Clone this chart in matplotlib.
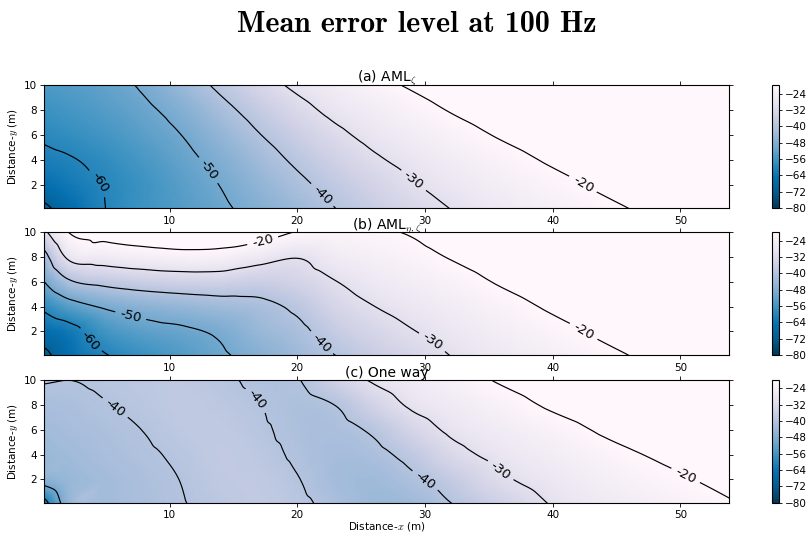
import os
import numpy as np
import matplotlib
matplotlib.use("Agg")
import matplotlib.pyplot as plt
import matplotlib.tri as mtri
from matplotlib.font_manager import FontProperties

plt.rcParams['mathtext.fontset'] = 'cm'
plt.rcParams['font.family'] = ['DejaVu Sans']

# Sample grid (m)
x_nodes = [0, 2, 5, 8, 11, 14, 17, 20, 23, 26, 29, 32, 36, 40, 45, 50, 54]
y_nodes = [0, 2, 4, 6, 8, 10]

# Mean error level (dB), one row per y node
level_aml_zeta = [
    [-72.5, -66.6, -60.0, -56.6, -53.9, -51.1, -47.7, -43.9, -40.1, -36.5, -33.0, -30.0, -26.7, -24.0, -20.7, -17.5, -15.0],
    [-65.5, -63.0, -59.6, -56.5, -53.2, -49.8, -45.6, -41.5, -37.7, -34.1, -30.5, -27.7, -24.5, -21.7, -18.3, -15.5, -13.3],
    [-61.8, -60.6, -58.1, -55.1, -51.8, -47.9, -43.2, -38.8, -34.9, -31.0, -28.0, -25.4, -22.2, -19.2, -16.2, -13.8, -12.0],
    [-59.2, -57.95, -55.8, -53.1, -49.9, -45.3, -40.3, -35.9, -31.6, -28.0, -25.3, -22.6, -19.4, -16.8, -14.0, -12.0, -10.6],
    [-57.0, -55.8, -53.8, -51.2, -47.5, -42.2, -37.1, -32.4, -28.2, -25.3, -22.4, -19.7, -17.0, -14.8, -12.5, -10.8, -9.6],
    [-54.5, -53.8, -52.1, -49.15, -44.2, -38.5, -33.3, -28.6, -25.2, -22.0, -19.3, -17.0, -14.6, -12.8, -11.0, -9.6, -8.6],
]

level_aml_eta_zeta = [
    [-73.0, -66.0, -60.5, -57.1, -54.1, -51.0, -47.5, -43.9, -40.1, -36.7, -33.4, -30.0, -26.7, -24.0, -20.7, -17.5, -15.0],
    [-65.6, -63.0, -56.0, -52.8, -51.2, -48.8, -44.6, -41.7, -36.8, -33.4, -30.3, -27.7, -24.5, -21.7, -18.3, -15.5, -13.3],
    [-59.0, -53.8, -49.1, -46.5, -44.9, -43.3, -41.9, -38.6, -33.5, -30.1, -27.6, -25.4, -22.2, -19.2, -16.2, -13.8, -12.0],
    [-51.0, -41.6, -37.8, -35.9, -34.9, -34.7, -35.8, -34.1, -30.2, -27.0, -24.8, -22.6, -19.4, -16.8, -14.0, -12.0, -10.6],
    [-44.5, -29.1, -26.0, -24.3, -23.1, -23.5, -26.9, -29.7, -25.9, -23.9, -22.0, -19.7, -17.0, -14.8, -12.5, -10.8, -9.6],
    [-33.0, -20.4, -16.5, -14.5, -13.5, -14.0, -15.4, -20.5, -21.5, -20.8, -19.5, -17.0, -14.6, -12.8, -11.0, -9.6, -8.6],
]

level_one_way = [
    [-66.0, -46.0, -43.2, -41.7, -40.2, -38.6, -37.6, -38.9, -41.6, -44.2, -43.7, -40.2, -35.0, -29.6, -25.8, -22.8, -20.4],
    [-47.0, -44.6, -42.9, -41.4, -39.85, -38.0, -37.9, -39.8, -42.7, -43.4, -41.0, -37.1, -31.0, -27.3, -23.6, -20.6, -18.3],
    [-44.5, -43.4, -42.0, -40.7, -39.2, -37.7, -38.6, -40.7, -42.5, -41.5, -37.9, -32.6, -28.0, -25.0, -21.3, -18.3, -16.2],
    [-43.2, -42.4, -41.3, -39.9, -38.3, -38.0, -39.3, -41.2, -41.6, -39.0, -33.6, -28.9, -25.5, -22.4, -18.5, -15.8, -14.0],
    [-42.0, -41.5, -40.2, -39.0, -38.0, -38.6, -39.9, -41.3, -39.9, -34.3, -29.0, -26.2, -22.6, -19.1, -16.0, -14.0, -12.5],
    [-39.6, -40.0, -39.2, -38.6, -38.3, -39.3, -40.6, -40.3, -34.8, -29.2, -26.3, -23.3, -19.3, -16.6, -14.0, -12.3, -11.0],
]

panel_titles = [r'(a) AML$_{\zeta}$', r'(b) AML$_{\eta,\zeta}$', '(c) One way']
contour_levels = [-70, -60, -50, -40, -30, -20]
cbar_ticks = [-80, -72, -64, -56, -48, -40, -32, -24]

# Where the contour labels sit on each panel
label_spots = [
    [(4.4, 2.1), (13.1, 3.2), (21.9, 1.1), (29.0, 2.2), (42.4, 2.1)],
    [(4.0, 1.4), (7.0, 3.4), (21.9, 1.1), (30.6, 1.2), (17.3, 9.3), (42.3, 1.8)],
    [(5.6, 7.6), (16.7, 8.3), (30.0, 1.9), (35.9, 2.7), (50.3, 2.1)],
]

fields = [level_aml_zeta, level_aml_eta_zeta, level_one_way]

# Triangulated sample grid; a cubic element with finite-difference node slopes
# gives smooth shading and contour lines between the samples
xg = np.asarray(x_nodes, float)
yg = np.asarray(y_nodes, float)
xs, ys = np.meshgrid(xg, yg)
nx, ny = len(x_nodes), len(y_nodes)
idx = np.arange(nx * ny).reshape(ny, nx)
p00 = idx[:-1, :-1].ravel()
p01 = idx[:-1, 1:].ravel()
p11 = idx[1:, 1:].ravel()
p10 = idx[1:, :-1].ravel()
triangles = np.concatenate([np.stack([p00, p01, p11], 1), np.stack([p00, p11, p10], 1)])
tri = mtri.Triangulation(xs.ravel(), ys.ravel(), triangles)
refiner = mtri.UniformTriRefiner(tri)

fig = plt.figure(figsize=(8.06, 5.33), dpi=100)
ax_left, ax_width, ax_height = 0.055, 0.8495, 0.23
bottoms = [0.6096, 0.3340, 0.0566]
cb_left, cb_width = 0.9578, 0.0087

for i, field in enumerate(fields):
    ax = fig.add_axes([ax_left, bottoms[i], ax_width, ax_height])
    zg = np.asarray(field, float)
    dzdy, dzdx = np.gradient(zg, yg, xg)
    z = zg.ravel()
    interp = mtri.CubicTriInterpolator(tri, z, kind='user', dz=(dzdx.ravel(), dzdy.ravel()))
    tri_f, z_f = refiner.refine_field(z, triinterpolator=interp, subdiv=4)
    pc = ax.tripcolor(tri_f, z_f, shading='gouraud', cmap='PuBu_r', vmin=-80, vmax=-20)
    cs = ax.tricontour(tri_f, z_f, levels=contour_levels, colors='k',
                       linewidths=0.85, linestyles='solid')
    ax.clabel(cs, fmt='%1.0f', fontsize=9.5, inline=True, manual=label_spots[i])
    ax.set_xlim(0.2, 53.8)
    ax.set_ylim(0.1, 10)
    ax.set_yticks([2, 4, 6, 8, 10])
    ax.set_xticks([10, 20, 30, 40, 50])
    ax.tick_params(labelsize=7.5, top=True, right=True, direction='out',
                   length=3, width=0.6, pad=2.5)
    ax.set_title(panel_titles[i], fontsize=10, pad=2.5)
    ax.set_ylabel('Distance-$y$ (m)', fontsize=7.5, labelpad=2.5)
    if i == 2:
        ax.set_xlabel('Distance-$x$ (m)', fontsize=7.5, labelpad=0)
    cax = fig.add_axes([cb_left, bottoms[i], cb_width, ax_height])
    cb = fig.colorbar(pc, cax=cax, ticks=cbar_ticks)
    cb.ax.tick_params(labelsize=7.5, length=2.5, width=0.6, pad=1.5)

# Computer Modern bold shipped with matplotlib
cm_bold = FontProperties(fname=os.path.join(matplotlib.get_data_path(), 'fonts', 'ttf', 'cmb10.ttf'),
                         size=21.6)
fig.text(0.517, 0.94, 'Mean error level at 100 Hz', fontproperties=cm_bold,
         ha='center', va='baseline')

fig.savefig('out.png', dpi=100)
